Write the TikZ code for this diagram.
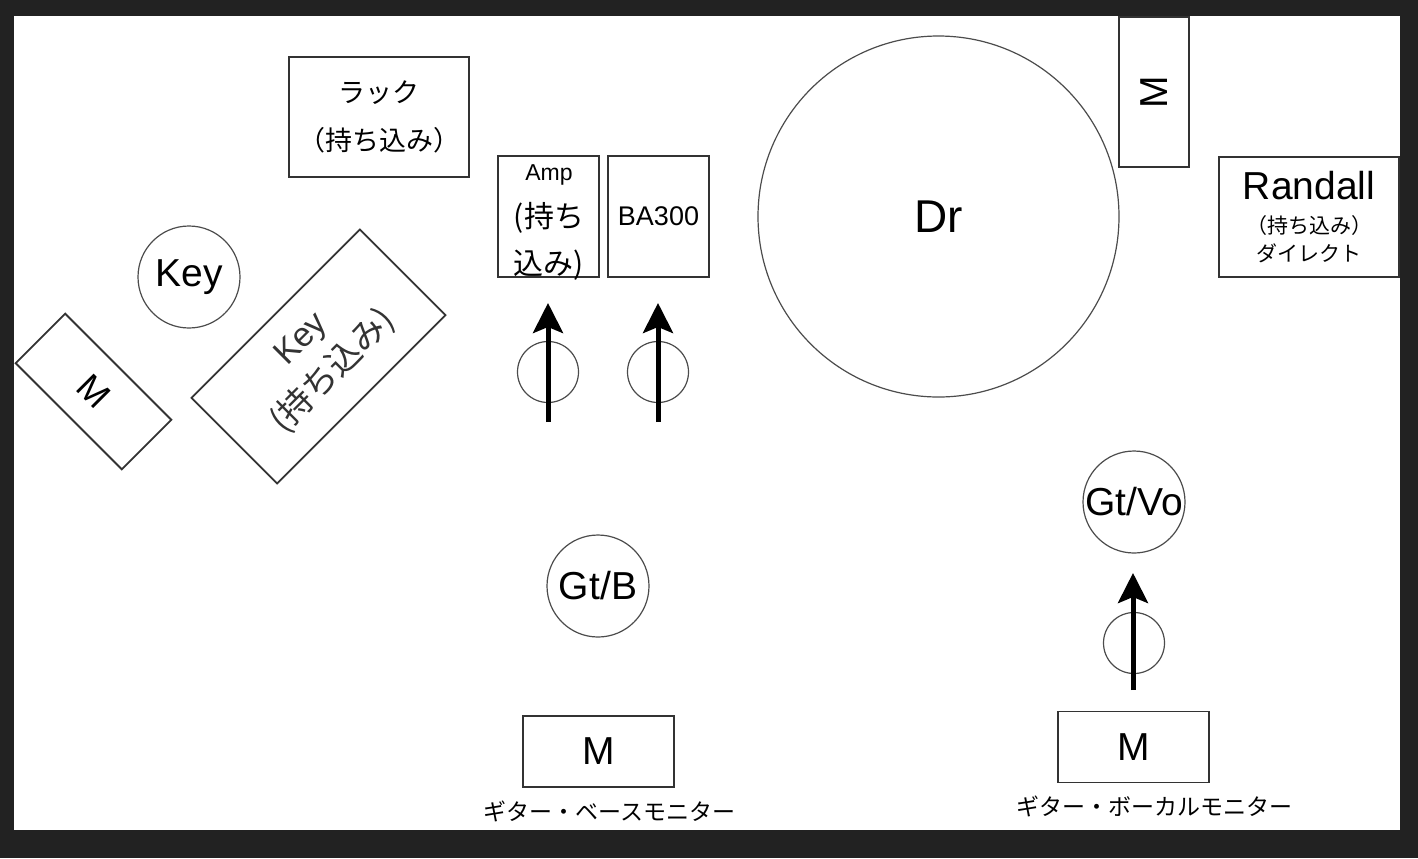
\documentclass[tikz,border=0pt]{standalone}
\usepackage{fontspec}
\setmainfont{Liberation Sans}
\newfontfamily\jp{Noto Sans CJK JP}
\usetikzlibrary{arrows.meta}
\definecolor{frame}{HTML}{222222}

\begin{document}
\begin{tikzpicture}[
        x = 0.5pt, y = -0.5pt,
        box/.style = {draw = black!80, line width = 0.9pt, inner sep = 0pt, align = center},
        ring/.style = {circle, draw = black!70, line width = 0.6pt, inner sep = 0pt, minimum size = 51pt},
        mic/.style = {circle, draw = black!70, line width = 0.6pt, inner sep = 0pt, minimum size = 30.5pt},
        stand/.style = {line width = 2.5pt, -{Stealth[length = 15pt, width = 15pt, inset = 3pt]}},
        big/.style = {font = \fontsize{19.5}{22}\selectfont},
        note/.style = {font = \jp\fontsize{11.5}{14}\selectfont, inner sep = 0pt}
    ]
        \useasboundingbox (0,0) rectangle (1418,858);
        \fill[frame] (0,0) rectangle (1418,858);
        \fill[white] (14,16) rectangle (1400,830);

        \node[box, minimum width = 90pt, minimum height = 60pt, font = \jp\fontsize{13.5}{24}\selectfont] (rack) at (379,117) {ラック\\（持ち込み）};

        \node[ring, big] (key) at (189,277) {Key};
        \node[box, big, rotate = -45, minimum width = 75pt, minimum height = 35pt, font = \fontsize{18}{20}\selectfont] (monkey) at (93.5,391.5) {M};
        \node[box, rotate = 45, minimum width = 119pt, minimum height = 60.5pt, text = black!80, font = \fontsize{17}{23}\selectfont] (keybox) at (318.5,356.5) {Key\\{\jp (持ち込み)}};

        \node[box, minimum width = 50.5pt, minimum height = 60.5pt] (amp) at (548.5,216.5) {};
        \node[align = center, inner sep = 0pt, font = \jp\fontsize{15}{23.5}\selectfont] (amptext) at (549,223) {{\normalfont\fontsize{11.5}{14}\selectfont Amp}\\(持ち\\込み)};
        \node[box, minimum width = 50.5pt, minimum height = 60.5pt, font = \fontsize{13.5}{16}\selectfont] (ba) at (658.5,216.5) {BA300};

        \node[mic] (micamp) at (548,372) {};
        \node[mic] (micba) at (658,372) {};
        \coordinate (ampfoot) at (548,422);
        \coordinate (amphead) at (548,303);
        \coordinate (bafoot) at (658,422);
        \coordinate (bahead) at (658,303);
        \draw[stand] (ampfoot) -- (amphead);
        \draw[stand] (bafoot) -- (bahead);

        \node[circle, draw = black!70, line width = 0.6pt, inner sep = 0pt, minimum size = 180.5pt, font = \fontsize{23}{26}\selectfont] (dr) at (938.5,216.5) {Dr};
        \node[box, big, rotate = 90, minimum width = 75pt, minimum height = 35pt] (mondr) at (1154,92) {M};
        \node[box, minimum width = 90pt, minimum height = 60pt, font = \jp\fontsize{10.5}{14}\selectfont] (randall) at (1309,217) {{\normalfont\fontsize{19.5}{20}\selectfont Randall}\\[3pt]（持ち込み）\\ダイレクト};

        \node[ring, big] (gtb) at (598,586) {Gt/B};
        \node[ring, big, inner sep = -2pt] (gtvo) at (1134,502) {Gt/Vo};

        \node[mic] (micvo) at (1134,643) {};
        \coordinate (vofoot) at (1133,690);
        \coordinate (vohead) at (1133,573);
        \draw[stand] (vofoot) -- (vohead);

        \node[box, big, minimum width = 75.5pt, minimum height = 35.5pt] (monbass) at (598.5,751.5) {M};
        \node[note] (monbasslabel) at (609.5,811) {ギター・ベースモニター};
        \node[box, big, minimum width = 75.5pt, minimum height = 35.5pt] (monvo) at (1133.5,747) {M};
        \node[note] (monvolabel) at (1154,806) {ギター・ボーカルモニター};
    \end{tikzpicture}
\end{document}
